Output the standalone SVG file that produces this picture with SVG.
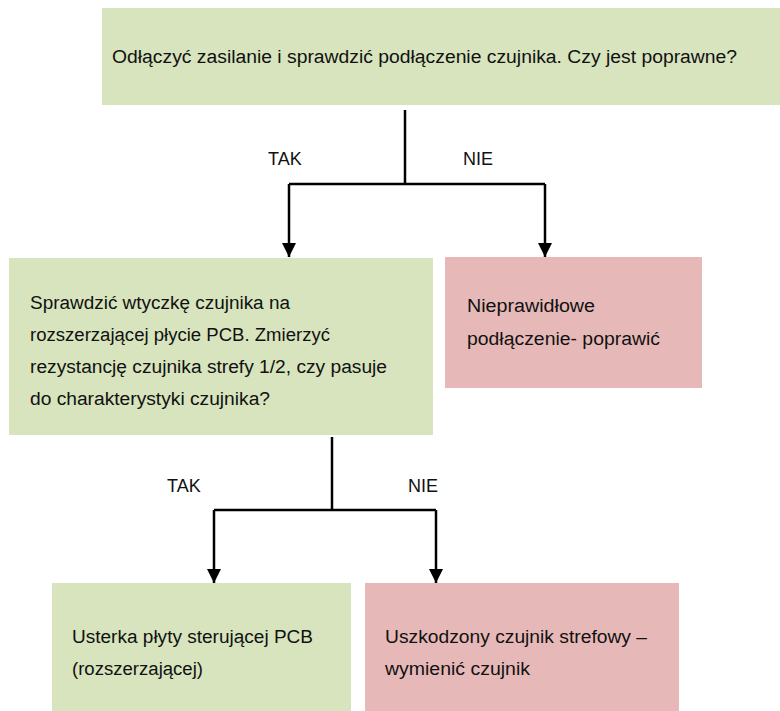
<svg xmlns="http://www.w3.org/2000/svg" width="780" height="711" viewBox="0 0 780 711">
<style>
.g{fill:#D7E4BD}
.p{fill:#E6B9B8}
.t{font-family:"Liberation Sans",Arial,sans-serif;font-size:18px;fill:#111}
.c{stroke:#000;stroke-width:2.5;fill:none}
</style>
<defs>
<marker id="ah" viewBox="0 0 14 14" refX="14" refY="7" markerWidth="14" markerHeight="14" markerUnits="userSpaceOnUse" orient="auto">
<path d="M0,0 L14,7 L0,14 Z" fill="#000"/>
</marker>
</defs>
<g id="n1"><rect class="g" x="102" y="8" width="678" height="97"/>
<text class="t" x="112" y="63" textLength="625" lengthAdjust="spacingAndGlyphs">Odłączyć zasilanie i sprawdzić podłączenie czujnika. Czy jest poprawne?</text></g>
<g id="n2"><rect class="g" x="9" y="258" width="424" height="177"/>
<text class="t" x="30" y="309" textLength="260" lengthAdjust="spacingAndGlyphs">Sprawdzić wtyczkę czujnika na</text>
<text class="t" x="30" y="341" textLength="300" lengthAdjust="spacingAndGlyphs">rozszerzającej płycie PCB. Zmierzyć</text>
<text class="t" x="30" y="373" textLength="357" lengthAdjust="spacingAndGlyphs">rezystancję czujnika strefy 1/2, czy pasuje</text>
<text class="t" x="30" y="405" textLength="240" lengthAdjust="spacingAndGlyphs">do charakterystyki czujnika?</text></g>
<g id="n3"><rect class="p" x="445" y="257" width="257" height="131"/>
<text class="t" x="467" y="312" textLength="128" lengthAdjust="spacingAndGlyphs">Nieprawidłowe</text>
<text class="t" x="467" y="345" textLength="193" lengthAdjust="spacingAndGlyphs">podłączenie- poprawić</text></g>
<g id="n4"><rect class="g" x="52" y="583" width="299" height="128"/>
<text class="t" x="72" y="643" textLength="241" lengthAdjust="spacingAndGlyphs">Usterka płyty sterującej PCB</text>
<text class="t" x="72" y="675" textLength="131" lengthAdjust="spacingAndGlyphs">(rozszerzającej)</text></g>
<g id="n5"><rect class="p" x="365" y="583" width="314" height="128"/>
<text class="t" x="385" y="643" textLength="262" lengthAdjust="spacingAndGlyphs">Uszkodzony czujnik strefowy –</text>
<text class="t" x="385" y="675" textLength="145" lengthAdjust="spacingAndGlyphs">wymienić czujnik</text></g>
<g id="connectors">
<path class="c" d="M405,110 V184" stroke-width="3"/>
<path class="c" d="M289,184 H545"/>
<path class="c" d="M289,184 V257" marker-end="url(#ah)"/>
<path class="c" d="M545,184 V257" marker-end="url(#ah)"/>
<text class="t" x="268" y="165">TAK</text>
<text class="t" x="463" y="165">NIE</text>
<path class="c" d="M332,437 V510" stroke-width="3"/>
<path class="c" d="M214,510 H436"/>
<path class="c" d="M214,510 V583" marker-end="url(#ah)"/>
<path class="c" d="M436,510 V583" marker-end="url(#ah)"/>
<text class="t" x="167" y="492">TAK</text>
<text class="t" x="408" y="492">NIE</text>
</g>
</svg>
